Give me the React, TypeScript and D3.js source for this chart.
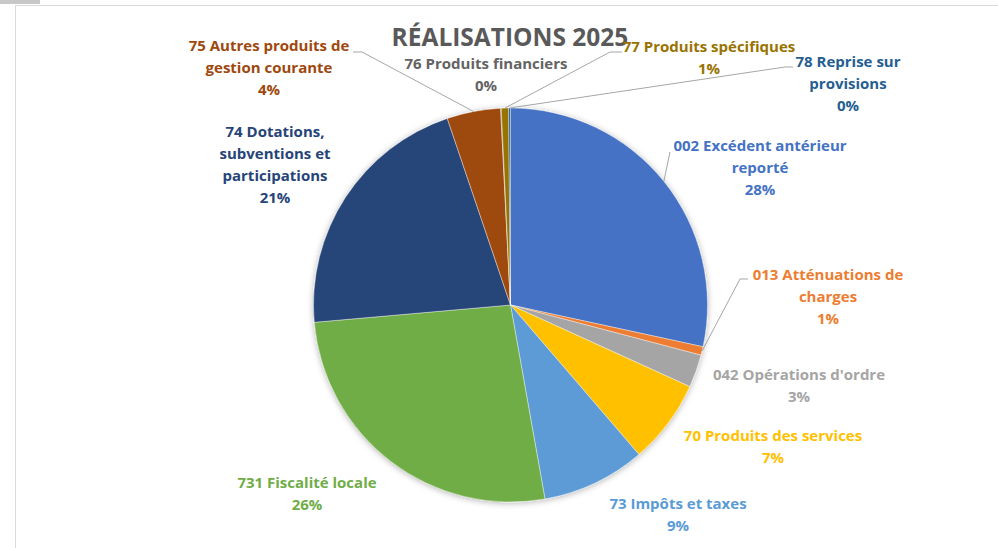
import React from 'react'
import * as d3 from 'd3'

const W = 998
const H = 548

// categories and values (share of 2025 realisations, in %)
const CATEGORIES = [
  '002 Excédent antérieur\nreporté',
  '013 Atténuations de\ncharges',
  "042 Opérations d'ordre",
  '70 Produits des services',
  '73 Impôts et taxes',
  '731 Fiscalité locale',
  '74 Dotations,\nsubventions et\nparticipations',
  '75 Autres produits de\ngestion courante',
  '76 Produits financiers',
  '77 Produits spécifiques',
  '78 Reprise sur\nprovisions',
]
const VALUES = [28.4, 0.7, 2.7, 6.9, 8.5, 26.4, 21.2, 4.4, 0.05, 0.6, 0.15]
const COLORS = [
  '#4472C4', '#ED7D31', '#A5A5A5', '#FFC000', '#5B9BD5', '#70AD47',
  '#264478', '#9E480E', '#636363', '#997300', '#255E91',
]

// label layout: centre x, first baseline y, optional elbow for leader
const LABEL_POS: { x: number; y: number; elbow?: [number, number]; end?: [number, number] }[] = [
  { x: 760, y: 151, elbow: [670, 152] },
  { x: 828, y: 280, elbow: [740, 279], end: [748, 279] },
  { x: 799, y: 380 },
  { x: 773, y: 441 },
  { x: 678, y: 509 },
  { x: 307, y: 488 },
  { x: 275, y: 137 },
  { x: 269, y: 51, elbow: [362, 52], end: [353, 52] },
  { x: 486, y: 69 },
  { x: 709, y: 52, elbow: [610, 52], end: [622, 52] },
  { x: 848, y: 67, elbow: [785, 67], end: [793, 67] },
]

const CX = 510.5
const CY = 305
const R = 197
const LINE_H = 22

export default function App() {
  const total = d3.sum(VALUES)
  const pie = d3.pie<number>().sort(null).value(d => d)
  const arcs = pie(VALUES)
  const arc = d3.arc<d3.PieArcDatum<number>>().innerRadius(0).outerRadius(R)
  const edge = d3.arc<d3.PieArcDatum<number>>().innerRadius(R).outerRadius(R)
  const fmt = (v: number) => `${Math.round((v / total) * 100)}%`

  return (
    <svg width={W} height={H} style={{ position: 'absolute', left: 0, top: 0, background: '#fff' }}
      fontFamily="'Open Sans', Lato, sans-serif">
      <defs>
        <filter id="shadow" x="-20%" y="-20%" width="140%" height="140%">
          <feDropShadow dx="0" dy="1" stdDeviation="3" floodColor="#000" floodOpacity="0.3" />
        </filter>
      </defs>
      <rect x={0} y={0} width={40} height={4} fill="#c8c8c8" />
      <rect x={15.5} y={5.5} width={W + 10} height={H + 10} fill="#fff" stroke="#d9d9d9" />

      <g transform={`translate(${CX},${CY})`} filter="url(#shadow)">
        {arcs.map((a, i) => (
          <path key={i} d={arc(a) || ''} fill={COLORS[i]} stroke="#fff" strokeWidth={0.4} />
        ))}
      </g>

      {/* leader lines */}
      {arcs.map((a, i) => {
        const p = LABEL_POS[i]
        if (!p.elbow) return null
        const [ex, ey] = edge.centroid(a)
        const pts: [number, number][] = [[CX + ex, CY + ey], p.elbow]
        if (p.end) pts.push(p.end)
        return (
          <path key={i} d={d3.line()(pts) || ''} fill="none" stroke="#a6a6a6" strokeWidth={1} />
        )
      })}

      <text x={510} y={46} textAnchor="middle" fontSize={24.5} fontWeight={700} fill="#595959">
        RÉALISATIONS 2025
      </text>

      {CATEGORIES.map((c, i) => {
        const p = LABEL_POS[i]
        const lines = [...c.split('\n'), fmt(VALUES[i])]
        return (
          <text key={i} x={p.x} y={p.y} textAnchor="middle" fontSize={15} fontWeight={700} fill={COLORS[i]}>
            {lines.map((l, j) => (
              <tspan key={j} x={p.x} y={p.y + j * LINE_H}>{l}</tspan>
            ))}
          </text>
        )
      })}
    </svg>
  )
}
